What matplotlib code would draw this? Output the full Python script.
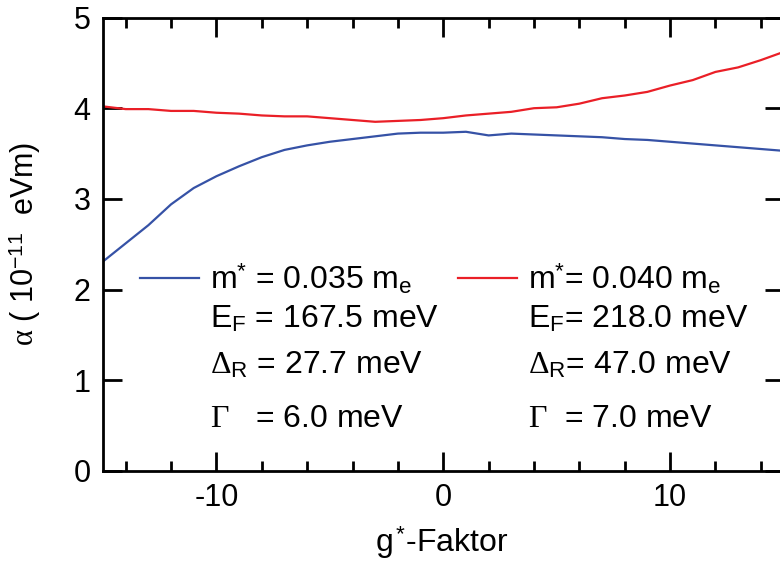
import matplotlib
matplotlib.use("Agg")
import matplotlib.pyplot as plt
from matplotlib.ticker import MultipleLocator

# Rashba parameter alpha versus effective g-factor for two effective masses
g_factor = list(range(-15, 16))
alpha_m035 = [2.31, 2.51, 2.71, 2.94, 3.12, 3.25, 3.36, 3.46, 3.54, 3.59,
              3.63, 3.66, 3.69, 3.72, 3.73, 3.73, 3.74, 3.70, 3.72, 3.71,
              3.70, 3.69, 3.68, 3.66, 3.65, 3.63, 3.61, 3.59, 3.57, 3.55, 3.53]
alpha_m040 = [4.02, 3.99, 3.99, 3.97, 3.97, 3.95, 3.94, 3.92, 3.91, 3.91,
              3.89, 3.87, 3.85, 3.86, 3.87, 3.89, 3.92, 3.94, 3.96, 4.00,
              4.01, 4.05, 4.11, 4.14, 4.18, 4.25, 4.31, 4.40, 4.45, 4.53, 4.62]

params_m035 = [r"m$^{\mathsf{*}}$ = 0.035 m$_{\mathsf{e}}$",
               r"E$_{\mathsf{F}}$ = 167.5 meV",
               r"$\Delta_{\mathsf{R}}$ = 27.7 meV",
               r"$\Gamma$   = 6.0 meV"]
params_m040 = [r"m$^{\mathsf{*}}$= 0.040 m$_{\mathsf{e}}$",
               r"E$_{\mathsf{F}}$= 218.0 meV",
               r"$\Delta_{\mathsf{R}}$= 47.0 meV",
               r"$\Gamma$  = 7.0 meV"]

x_ticks = [-10, 0, 10]
y_ticks = [0, 1, 2, 3, 4, 5]

BLUE = "#3652a6"
RED = "#ea1f27"

plt.rcParams.update({
    "font.family": ["Liberation Sans", "DejaVu Sans"],
    "mathtext.fontset": "custom",
    "mathtext.rm": "Liberation Serif",
    "mathtext.it": "Liberation Serif",
    "mathtext.sf": "Liberation Sans",
    "mathtext.bf": "Liberation Sans:bold",
    "axes.unicode_minus": False,
})

W, H = 780, 568
DPI = 100
fig = plt.figure(figsize=(W / DPI, H / DPI), dpi=DPI)
ax = fig.add_axes([103 / W, 1 - 471 / H, (783.5 - 103) / W, (471 - 17.5) / H])

line1, = ax.plot(g_factor, alpha_m035, color=BLUE, lw=1.6)
line2, = ax.plot(g_factor, alpha_m040, color=RED, lw=1.6)

ax.set_xlim(-15, 15)
ax.set_ylim(0, 5)
ax.set_xticks(x_ticks)
ax.set_yticks(y_ticks)
ax.xaxis.set_minor_locator(MultipleLocator(2))

for s in ax.spines.values():
    s.set_linewidth(2.0)
ax.tick_params(which="both", direction="in", top=True, right=True,
               labelsize=22, width=2.0, pad=9)
ax.tick_params(which="major", length=14)
ax.tick_params(which="minor", length=7)
ax.tick_params(axis="y", which="minor", left=False, right=False)

ax.set_xlabel(r"g$^{\,\mathsf{*}}$-Faktor", fontsize=23)
ax.xaxis.set_label_coords(0.497, -0.118)
ax.set_ylabel(r"$\alpha$ ( 10$^{\mathsf{-11}}$  eVm)", fontsize=22)
ax.yaxis.set_label_coords(-0.088, 0.5)

fs = 23
px_per_em = fs * DPI / 72


def make_key(anchor, colsp):
    return ax.legend([line1, line2], [params_m035[0], params_m040[0]],
                     ncol=2, loc="upper left", bbox_to_anchor=anchor,
                     frameon=False, fontsize=fs, handlelength=1.85,
                     handletextpad=0.33, columnspacing=colsp, borderpad=0,
                     borderaxespad=0)


# blue sample starts at pixel (140, 278), red sample starts at x = 458
anchor = [0.05, 0.58]
colsp = 1.0
leg = make_key(tuple(anchor), colsp)
for _ in range(3):
    fig.canvas.draw()
    r = fig.canvas.get_renderer()
    ax_bb = ax.get_window_extent(r)
    h1, h2 = leg.get_lines()
    b1 = h1.get_window_extent(r)
    b2 = h2.get_window_extent(r)
    dx = 140 - b1.x0
    dy = (H - 278) - (b1.y0 + b1.y1) / 2
    anchor[0] += dx / ax_bb.width
    anchor[1] += dy / ax_bb.height
    colsp += (458 - (140 + b2.x0 - b1.x0)) / px_per_em
    leg.remove()
    leg = make_key(tuple(anchor), colsp)

fig.canvas.draw()
r = fig.canvas.get_renderer()
inv = ax.transData.inverted()
row_baselines = [328, 373, 427]
for txt, col in zip(leg.get_texts(), [params_m035, params_m040]):
    x0 = txt.get_window_extent(r).x0
    for label, yb in zip(col[1:], row_baselines):
        xd, yd = inv.transform((x0, H - yb))
        ax.text(xd, yd, label, fontsize=fs, va="baseline", ha="left")

fig.savefig("out.png", dpi=DPI)
